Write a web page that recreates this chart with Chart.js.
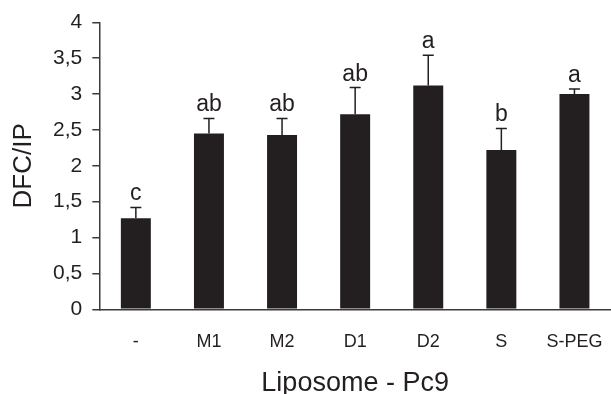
<!DOCTYPE html>
<html>
<head>
<meta charset="utf-8">
<script src="https://cdn.jsdelivr.net/npm/chart.js@4"></script>
<style>
  html, body { margin: 0; padding: 0; background: #fff; overflow: hidden; }
  canvas { display: block; }
</style>
</head>
<body>
<canvas id="graficoBarras" width="611" height="394"></canvas>
<script>
const categorias = ['-', 'M1', 'M2', 'D1', 'D2', 'S', 'S-PEG'];
const medias = [1.27, 2.45, 2.43, 2.72, 3.12, 2.22, 3.00];
const errores = [0.15, 0.21, 0.23, 0.37, 0.42, 0.30, 0.07];
const letras = ['c', 'ab', 'ab', 'ab', 'a', 'b', 'a'];
const yTickLabels = ['0', '0,5', '1', '1,5', '2', '2,5', '3', '3,5', '4'];

const FUENTE = "'Liberation Sans', Arial, Helvetica, sans-serif";
const NEGRO = '#231f20';
const EJE = '#3a3a3a';

// barras de error + letras de significancia
const barrasError = {
    id: 'barrasError',
    afterDatasetsDraw(chart) {
        const ctx = chart.ctx;
        const y = chart.scales.y;
        const meta = chart.getDatasetMeta(0);
        ctx.save();
        ctx.strokeStyle = NEGRO;
        ctx.lineWidth = 1.5;
        ctx.fillStyle = NEGRO;
        ctx.font = '23px ' + FUENTE;
        ctx.textAlign = 'center';
        ctx.textBaseline = 'alphabetic';
        meta.data.forEach((bar, i) => {
            const yBase = y.getPixelForValue(medias[i]);
            const yTop = y.getPixelForValue(medias[i] + errores[i]);
            ctx.beginPath();
            ctx.moveTo(bar.x, yBase);
            ctx.lineTo(bar.x, yTop);
            ctx.moveTo(bar.x - 5.5, yTop);
            ctx.lineTo(bar.x + 5.5, yTop);
            ctx.stroke();
            ctx.fillText(letras[i], bar.x, yTop - 7);
        });
        ctx.restore();
    }
};

document.addEventListener('DOMContentLoaded', function() {
    const ctx = document.getElementById('graficoBarras').getContext('2d');

    new Chart(ctx, {
        type: 'bar',
        data: {
            labels: categorias,
            datasets: [{
                data: medias,
                backgroundColor: NEGRO,
                borderWidth: 0,
                barPercentage: 0.41,
                categoryPercentage: 1
            }]
        },
        options: {
            responsive: false,
            animation: false,
            layout: {
                padding: { top: 22.3, right: -2, bottom: 0, left: 0 }
            },
            plugins: {
                legend: { display: false },
                tooltip: { enabled: false }
            },
            scales: {
                x: {
                    grid: { display: false, drawTicks: false },
                    border: { display: true, color: EJE, width: 1.5 },
                    ticks: {
                        color: NEGRO,
                        font: { family: FUENTE, size: 18 },
                        padding: 22
                    },
                    title: {
                        display: true,
                        text: 'Liposome - Pc9',
                        color: NEGRO,
                        font: { family: FUENTE, size: 27, lineHeight: 1 },
                        padding: { top: 0, bottom: -3.4 }
                    },
                    afterFit(scale) {
                        scale.height = 84.7;
                        scale.paddingLeft = 0;
                        scale.paddingRight = -2;
                    }
                },
                y: {
                    min: 0,
                    max: 4,
                    grid: {
                        drawOnChartArea: false,
                        drawTicks: true,
                        tickLength: 7,
                        color: EJE,
                        lineWidth: 1.5
                    },
                    border: { display: true, color: EJE, width: 1.5 },
                    ticks: {
                        stepSize: 0.5,
                        color: NEGRO,
                        font: { family: FUENTE, size: 21 },
                        padding: 10,
                        callback: (v, i) => yTickLabels[i]
                    },
                    title: {
                        display: true,
                        text: 'DFC/IP',
                        color: NEGRO,
                        font: { family: FUENTE, size: 26, lineHeight: 1 },
                        padding: { top: 11.3, bottom: 0 }
                    },
                    afterFit(scale) {
                        scale.width = 99.3;
                        scale.paddingTop = 0;
                        scale.paddingBottom = 0;
                    }
                }
            }
        },
        plugins: [barrasError]
    });
});
</script>
</body>
</html>
